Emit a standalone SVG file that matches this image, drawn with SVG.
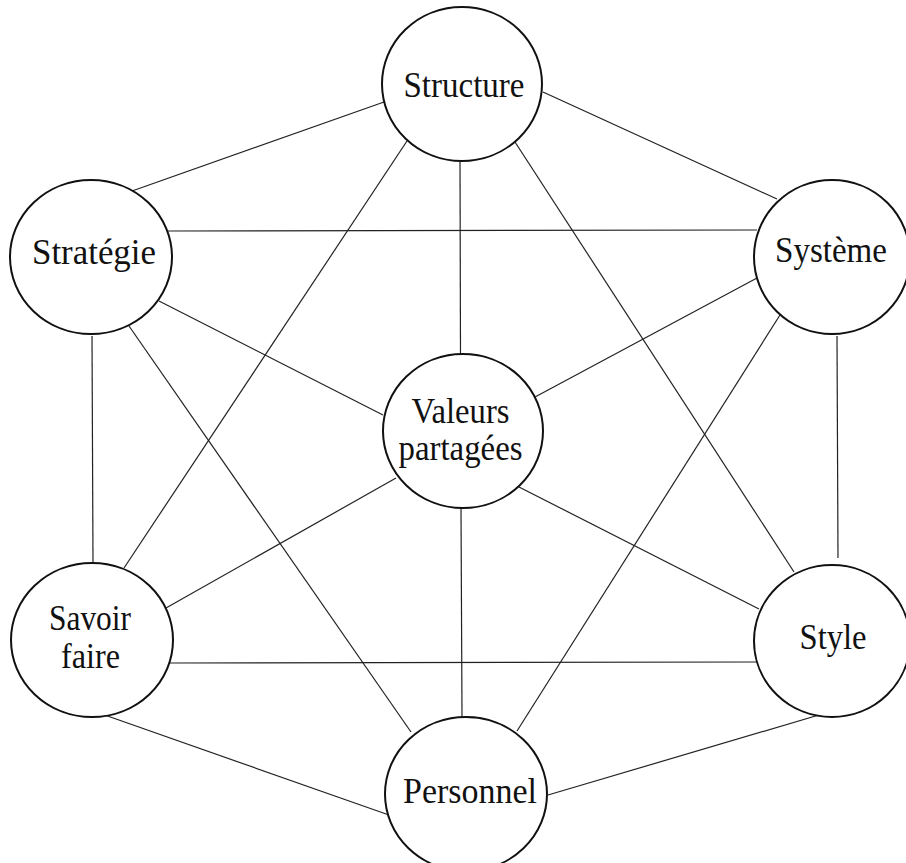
<svg xmlns="http://www.w3.org/2000/svg" width="906" height="863" viewBox="0 0 906 863">
<style>
.node ellipse{fill:#fff;stroke:#111;stroke-width:2}
.node text{font-family:"Liberation Serif","Times New Roman",serif;font-size:35px;fill:#111;text-anchor:middle}
#edges line{stroke:#222;stroke-width:1.2;fill:none}
</style>
<rect width="906" height="863" fill="#fff"/>
<g id="edges">
<line x1="384" y1="102" x2="132" y2="191"/>
<line x1="543" y1="92" x2="777" y2="199"/>
<line x1="168" y1="231" x2="757" y2="230"/>
<line x1="460" y1="160" x2="460.5" y2="356"/>
<line x1="407" y1="141" x2="124" y2="568"/>
<line x1="515" y1="142" x2="794" y2="572"/>
<line x1="159" y1="301" x2="383" y2="415"/>
<line x1="757" y1="278" x2="535" y2="397"/>
<line x1="92" y1="336" x2="93" y2="562"/>
<line x1="837" y1="336" x2="838" y2="558"/>
<line x1="129" y1="326" x2="411" y2="732"/>
<line x1="780" y1="315" x2="517" y2="731"/>
<line x1="396" y1="478" x2="166" y2="608"/>
<line x1="519" y1="487" x2="759" y2="609"/>
<line x1="461" y1="508" x2="462" y2="717"/>
<line x1="170" y1="663" x2="759" y2="662"/>
<line x1="99" y1="713" x2="389" y2="815"/>
<line x1="829" y1="712" x2="548" y2="795"/>
</g>
<g id="structure" class="node"><ellipse cx="462" cy="84" rx="80" ry="77"/><text x="464" y="97" textLength="121" lengthAdjust="spacingAndGlyphs">Structure</text></g>
<g id="strategie" class="node"><ellipse cx="91" cy="257" rx="81" ry="77"/><text x="94" y="264" textLength="124" lengthAdjust="spacingAndGlyphs">Stratégie</text></g>
<g id="systeme" class="node"><ellipse cx="832" cy="257" rx="78" ry="77"/><text x="831" y="262" textLength="112" lengthAdjust="spacingAndGlyphs">Système</text></g>
<g id="valeurs" class="node"><ellipse cx="463" cy="431" rx="80" ry="77"/><text x="460.5" y="423" textLength="98" lengthAdjust="spacingAndGlyphs">Valeurs</text><text x="460.5" y="460" textLength="124" lengthAdjust="spacingAndGlyphs">partagées</text></g>
<g id="savoir" class="node"><ellipse cx="92" cy="640" rx="81" ry="77"/><text x="90" y="630" textLength="82" lengthAdjust="spacingAndGlyphs">Savoir</text><text x="90.5" y="668" textLength="59" lengthAdjust="spacingAndGlyphs">faire</text></g>
<g id="style" class="node"><ellipse cx="832" cy="641" rx="78" ry="76"/><text x="833" y="649" textLength="67" lengthAdjust="spacingAndGlyphs">Style</text></g>
<g id="personnel" class="node"><ellipse cx="466" cy="794" rx="81" ry="77"/><text x="470" y="803" textLength="134" lengthAdjust="spacingAndGlyphs">Personnel</text></g>
</svg>
